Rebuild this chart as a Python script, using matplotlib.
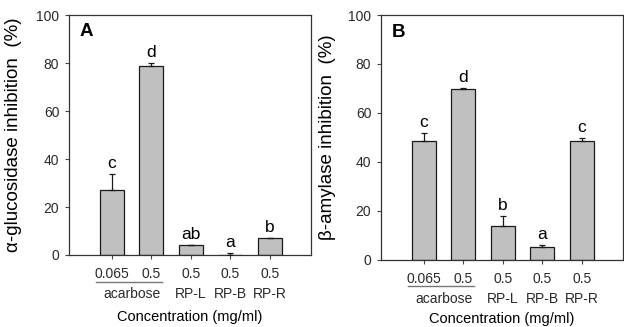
import numpy as np
import matplotlib.pyplot as plt

plt.rcParams['font.family'] = ['Liberation Sans', 'DejaVu Sans']

# data
conc = ['0.065', '0.5', '0.5', '0.5', '0.5']
samples = ['acarbose', 'RP-L', 'RP-B', 'RP-R']
gluc = [27.1, 78.7, 4.3, 0.1, 6.9]
gluc_err = [6.8, 1.3, 0.0, 0.6, 0.3]
gluc_sig = ['c', 'd', 'ab', 'a', 'b']
amyl = [48.5, 69.8, 13.9, 5.2, 48.5]
amyl_err = [3.2, 0.3, 4.1, 0.9, 1.4]
amyl_sig = ['c', 'd', 'b', 'a', 'c']

x = np.arange(1, 6)
PX = 72 / 100  # pixels -> points

fig = plt.figure(figsize=(6.24, 3.27), dpi=100)
axA = fig.add_axes([0.1106, 0.2202, 0.3874, 0.7338])
axB = fig.add_axes([0.6106, 0.2058, 0.3874, 0.7482])


def draw(ax, vals, errs, sig, ylabel, panel, lab_x, conc_off):
    ax.bar(x, vals, width=0.61, color='#c0c0c0', edgecolor='#1a1a1a', linewidth=0.9, zorder=2)
    ax.errorbar(x, vals, yerr=[np.zeros(len(vals)), errs], fmt='none', ecolor='#1a1a1a',
                elinewidth=0.9, capsize=2.5, capthick=0.9, zorder=3)
    for xi, v, e, s in zip(x, vals, errs, sig):
        ax.annotate(s, (xi, v + e), xytext=(0, 6 * PX), textcoords='offset points',
                    ha='center', va='baseline', fontsize=12.5)
    ax.set_xlim(-0.09, 6.04)
    ax.set_ylim(0, 100)
    ax.set_yticks([0, 20, 40, 60, 80, 100])
    ax.set_xticks(x)
    ax.set_xticklabels([])
    ax.tick_params(axis='y', direction='out', length=3, labelsize=10, colors='#444444',
                   labelcolor='#2a2a2a', pad=4)
    ax.tick_params(axis='x', direction='out', length=3, colors='#444444')
    for sp in ax.spines.values():
        sp.set_color('#333333')
        sp.set_linewidth(0.9)
    ax.set_ylabel(ylabel, fontsize=13.5)
    ax.yaxis.set_label_coords(lab_x, 0.5)
    ax.text(0.045, 0.965, panel, transform=ax.transAxes, fontsize=13.5, fontweight='bold',
            ha='left', va='top')

    # x labels below the axis, offsets in pixels from the bottom spine
    xy = ('data', 'axes fraction')
    for xi, c in zip(x, conc):
        ax.annotate(c, (xi, 0), xycoords=xy, xytext=(0, -19.5 * PX), textcoords='offset points',
                    ha='center', va='center', fontsize=10, color='#2a2a2a')
    ax.annotate(samples[0], (1.5, 0), xycoords=xy, xytext=(0, -39 * PX),
                textcoords='offset points', ha='center', va='center', fontsize=10, color='#2a2a2a')
    for xi, s in zip(x[2:], samples[1:]):
        ax.annotate(s, (xi, 0), xycoords=xy, xytext=(0, -39 * PX), textcoords='offset points',
                    ha='center', va='center', fontsize=10, color='#2a2a2a')
    ax.annotate('Concentration (mg/ml)', (0.5, 0), xycoords='axes fraction',
                xytext=(0, -conc_off * PX), textcoords='offset points',
                ha='center', va='center', fontsize=10.5)


draw(axA, gluc, gluc_err, gluc_sig, 'α-glucosidase inhibition  (%)', 'A', -0.194, 62)
draw(axB, amyl, amyl_err, amyl_sig, 'β-amylase inhibition  (%)', 'B', -0.186, 59)

# underline below the acarbose concentrations
for ax, off in ((axA, 27), (axB, 26)):
    y0 = ax.transAxes.transform((0, 0))[1] - off
    x0 = ax.transData.transform((0.6, 0))[0]
    x1 = ax.transData.transform((2.27, 0))[0]
    inv = fig.transFigure.inverted()
    (fx0, fy), (fx1, _) = inv.transform([(x0, y0), (x1, y0)])
    fig.lines.append(plt.Line2D([fx0, fx1], [fy, fy], transform=fig.transFigure,
                                color='#777777', linewidth=1.0))

fig.savefig('out.png', dpi=100)
